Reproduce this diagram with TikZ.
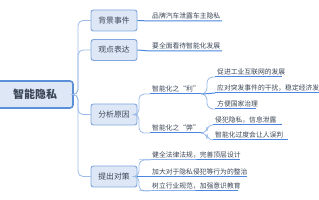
\documentclass[tikz,border=0pt]{standalone}
\usepackage{fontspec}
\setmainfont{Noto Sans CJK SC}
\definecolor{boxfill}{HTML}{DDE7F5}
\definecolor{boxdraw}{HTML}{7FA6DE}
\definecolor{cdraw}{HTML}{5B8FD8}
\definecolor{conn}{HTML}{9BBBE8}
\definecolor{uline}{HTML}{4A86E0}
\definecolor{txt}{HTML}{3A4556}
\tikzset{
  centralbox/.style={draw=cdraw,fill=boxfill,line width=1.6pt,rounded corners=3pt,
    minimum width=76pt,minimum height=27pt,inner sep=0pt,text=txt,
    font=\fontsize{11}{12}\selectfont\bfseries},
  topicbox/.style={draw=boxdraw,fill=boxfill,line width=0.9pt,rounded corners=2.5pt,
    minimum width=46pt,minimum height=21pt,inner sep=0pt,text=txt,
    font=\fontsize{7.8}{9}\selectfont},
  leaf/.style={anchor=south west,inner xsep=2pt,inner ysep=1.6pt,text=txt,
    font=\fontsize{6.8}{8}\selectfont},
  connline/.style={draw=conn,line width=0.8pt,rounded corners=5pt},
  ulinestyle/.style={draw=uline,line width=1pt},
}
\begin{document}
\begin{tikzpicture}[x=1pt,y=-1pt]
\useasboundingbox (0,0) rectangle (319,200);
% central
\node[centralbox] (c) at (35,94.5) {智能隐私};
% topics
\node[topicbox] (b1) at (114,20.5) {背景事件};
\node[topicbox] (b2) at (114,50) {观点表达};
\node[topicbox] (b3) at (114,114.5) {分析原因};
\node[topicbox] (b4) at (114,176.5) {提出对策};
\coordinate (trunk) at (78,94.5);
\draw[connline] (c.east) -- (trunk) |- (b1.west);
\draw[connline] (c.east) -- (trunk) |- (b2.west);
\draw[connline] (c.east) -- (trunk) |- (b3.west);
\draw[connline] (c.east) -- (trunk) |- (b4.west);
% leaves of b1, b2
\node[leaf] (l1) at (150,21) {品牌汽车泄露车主隐私};
\node[leaf] (l2) at (150,51) {要全面看待智能化发展};
\draw[ulinestyle] (b1.east) -- (l1.south west) -- (222,21);
\draw[ulinestyle] (b2.east) -- (l2.south west) -- (222,51);
% analysis
\coordinate (f3) at (139,114.5);
\node[leaf] (li) at (150,94) {智能化之“利”};
\node[leaf] (lb) at (150,133) {智能化之“弊”};
\draw[connline] (b3.east) -- (f3) |- (li.south west);
\draw[connline] (b3.east) -- (f3) |- (lb.south west);
\coordinate (liend) at (203,94);
\coordinate (lbend) at (203,133);
\draw[ulinestyle] (li.south west) -- (liend);
\draw[ulinestyle] (lb.south west) -- (lbend);
% li children
\coordinate (fi) at (207,94);
\node[leaf] (a1) at (215,77) {促进工业互联网的发展};
\node[leaf] (a2) at (215,93) {应对突发事件的干扰，稳定经济发展};
\node[leaf] (a3) at (215,109) {方便国家治理};
\draw[connline,rounded corners=6pt] (liend) -- (fi) |- (a1.south west);
\draw[connline,rounded corners=6pt] (liend) -- (fi) |- (a3.south west);
\draw[ulinestyle] (liend) -- (a2.south west);
\draw[ulinestyle] (a1.south west) -- (282,77);
\draw[ulinestyle] (a2.south west) -- (319,93);
\draw[ulinestyle] (a3.south west) -- (256,109);
% lb children
\coordinate (fb) at (207,133);
\node[leaf] (d1) at (213,125) {侵犯隐私，信息泄露};
\node[leaf] (d2) at (213,140) {智能化过度会让人误判};
\draw[connline,rounded corners=6pt] (lbend) -- (fb) |- (d1.south west);
\draw[connline,rounded corners=6pt] (lbend) -- (fb) |- (d2.south west);
\draw[ulinestyle] (d1.south west) -- (282,125);
\draw[ulinestyle] (d2.south west) -- (288,140);
% countermeasures
\coordinate (f4) at (139,176.5);
\node[leaf] (e1) at (150,160) {健全法律法规，完善顶层设计};
\node[leaf] (e2) at (150,176.5) {加大对于隐私侵犯等行为的整治};
\node[leaf] (e3) at (150,191) {树立行业规范，加强意识教育};
\draw[connline] (b4.east) -- (f4) |- (e1.south west);
\draw[connline] (b4.east) -- (f4) |- (e3.south west);
\draw[ulinestyle] (b4.east) -- (e2.south west);
\draw[ulinestyle] (f4 |- e1.south west) -- (e1.south west) -- (240,160);
\draw[ulinestyle] (e2.south west) -- (247,176.5);
\draw[ulinestyle] (f4 |- e3.south west) -- (e3.south west) -- (238,191);
\end{tikzpicture}
\end{document}
